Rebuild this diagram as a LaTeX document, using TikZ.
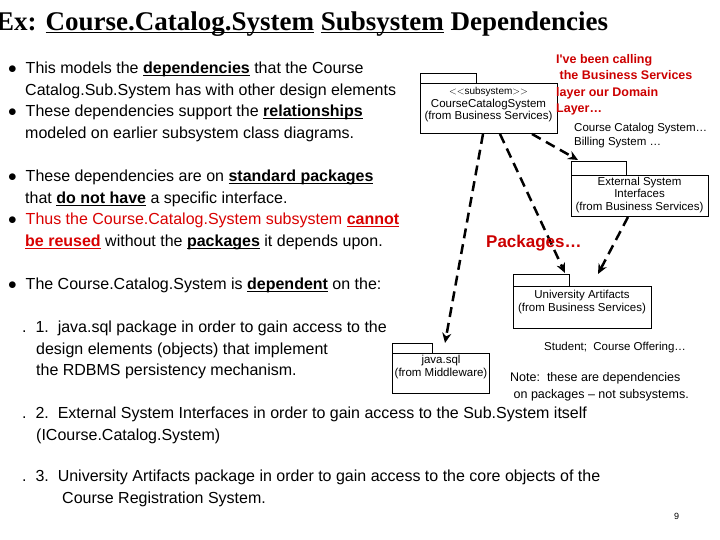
\documentclass[tikz,border=0pt]{standalone}
\usepackage{fontspec}
\setmainfont{Liberation Serif}
\newfontfamily\arial{Liberation Sans}
\usetikzlibrary{arrows.meta}
\newsavebox\ulbox
\newcommand\myul[1]{\sbox\ulbox{#1}\rlap{\rule[-2.5pt]{\wd\ulbox}{1pt}}\usebox\ulbox}
\begin{document}
\begin{tikzpicture}[x=1pt,y=-1pt,
  txt/.style={anchor=north west,inner sep=0pt,font=\arial\fontsize{16}{21.5}\selectfont,align=left},
  small/.style={inner sep=0pt,font=\arial\fontsize{11.5}{12.5}\selectfont,align=center},
  pkg/.style={draw,thin,fill=white,inner sep=0pt},
  dep/.style={draw,line width=2.5pt,dash pattern=on 10pt off 6pt,-{Stealth[length=10pt,width=9pt]}},
  red/.style={text=red!80!black}]
\useasboundingbox (0,0) rectangle (720,540);
\fill[white] (0,0) rectangle (720,540);
\node[anchor=north west,inner sep=0pt,font=\bfseries\fontsize{27}{30}\selectfont] (title) at (-4,12)
 {Ex: \myul{Course.Catalog.System} \myul{Subsystem} Dependencies};
\node[txt] (b1) at (8,62) {$\bullet$\ \ This models the \textbf{\myul{dependencies}} that the Course\\
\hspace{17pt}Catalog.Sub.System has with other design elements\\
$\bullet$\ \ These dependencies support the \textbf{\myul{relationships}}\\
\hspace{17pt}modeled on earlier subsystem class diagrams.};
\node[txt] (b2) at (8,170) {$\bullet$\ \ These dependencies are on \textbf{\myul{standard packages}}\\
\hspace{17pt}that \textbf{\myul{do not have}} a specific interface.\\
$\bullet$\ \ \textcolor{red!85!black}{Thus the Course.Catalog.System subsystem \textbf{\myul{cannot}}}\\
\hspace{17pt}\textcolor{red!85!black}{\textbf{\myul{be reused}}} without the \textbf{\myul{packages}} it depends upon.};
\node[txt] (b3) at (8,278) {$\bullet$\ \ The Course.Catalog.System is \textbf{\myul{dependent}} on the:};
\node[txt] (l1) at (22,321) {.\ \ 1.\ \ java.sql package in order to gain access to the\\
\hspace{14pt}design elements (objects) that implement\\
\hspace{14pt}the RDBMS persistency mechanism.};
\node[txt] (l2) at (22,407) {.\ \ 2.\ \ External System Interfaces in order to gain access to the Sub.System itself\\
\hspace{14pt}(ICourse.Catalog.System)};
\node[txt] (l3) at (22,470) {.\ \ 3.\ \ University Artifacts package in order to gain access to the core objects of the\\
\hspace{40pt}Course Registration System.};
% packages
\draw[pkg] (420,73) rectangle (476,83);
\draw[pkg] (420,83) rectangle (557,133);
\node[small] (ccs) at (488.5,105) {\fontsize{10}{11.5}\selectfont$<<$subsystem$>>$\\CourseCatalogSystem\\(from Business Services)};
\draw[pkg] (571,161) rectangle (626,175);
\draw[pkg] (571,175) rectangle (708,216);
\node[small] (ext) at (639.5,195) {External System\\Interfaces\\(from Business Services)};
\draw[pkg] (513,274) rectangle (569,286);
\draw[pkg] (513,286) rectangle (651,328);
\node[small] (ua) at (582,302) {University Artifacts\\(from Business Services)};
\draw[pkg] (392,343) rectangle (432,353);
\draw[pkg] (392,353) rectangle (489,393);
\node[small] (sql) at (441,367) {java.sql\\(from Middleware)};
\coordinate (c1) at (483,134); \coordinate (t1) at (445,343);
\coordinate (c2) at (500,134); \coordinate (t2) at (565,273);
\coordinate (c3) at (532,134); \coordinate (t3) at (578,160);
\coordinate (c4) at (628,217); \coordinate (t4) at (598,274);
\draw[dep] (c1) -- (t1);
\draw[dep] (c2) -- (t2);
\draw[dep] (c3) -- (t3);
\draw[dep] (c4) -- (t4);
% annotations
\node[anchor=north west,inner sep=0pt,font=\arial\bfseries\fontsize{12.5}{16.5}\selectfont,red,align=left] (n1) at (556,54)
 {I've been calling\\\ the Business Services\\layer our Domain\\Layer…};
\node[anchor=north west,inner sep=0pt,font=\arial\fontsize{11.5}{14}\selectfont,align=left] (n2) at (574,123)
 {Course Catalog System…\\Billing System …};
\node[anchor=north west,inner sep=0pt,font=\arial\bfseries\fontsize{17}{19}\selectfont,red] (pk) at (486,235) {Packages…};
\node[anchor=north west,inner sep=0pt,font=\arial\fontsize{11.5}{14}\selectfont] (n3) at (544,342) {Student;\ \ Course Offering…};
\node[anchor=north west,inner sep=0pt,font=\arial\fontsize{12.5}{17}\selectfont,align=left] (n4) at (510,372)
 {Note:\ \ these are dependencies\\\ on packages – not subsystems.};
\node[anchor=north west,inner sep=0pt,font=\arial\fontsize{9}{10}\selectfont] (pg) at (674,513) {9};
\end{tikzpicture}
\end{document}
